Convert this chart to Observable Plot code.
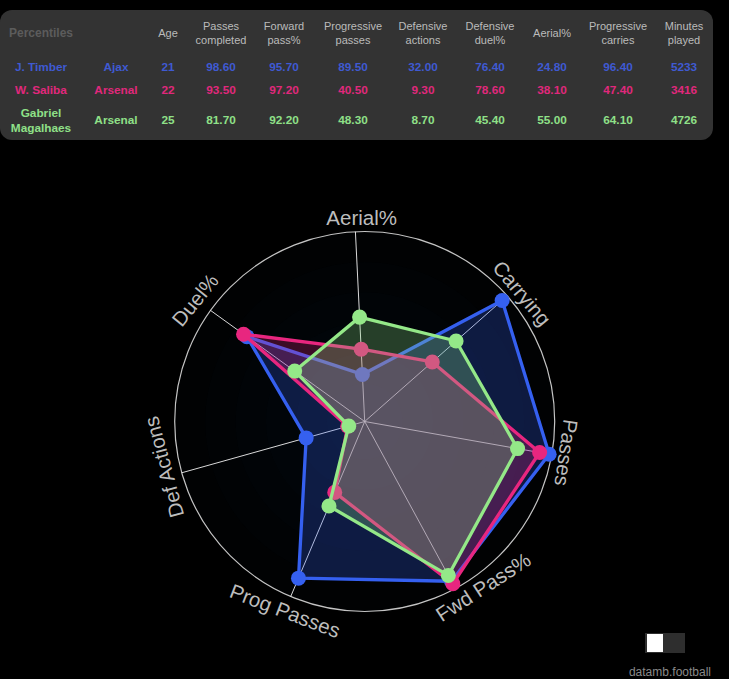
<!DOCTYPE html>
<html>
<head>
<meta charset="utf-8">
<script src="https://cdn.jsdelivr.net/npm/d3@7"></script>
<script src="https://cdn.jsdelivr.net/npm/@observablehq/plot@0.6"></script>
<style>
  html,body{margin:0;padding:0;background:#000;width:729px;height:679px;overflow:hidden;font-family:"Liberation Sans",Arial,sans-serif;}
  #panel{position:absolute;left:0;top:10px;width:713px;height:130px;background:#333;border-radius:12px;}
  table{border-collapse:collapse;table-layout:fixed;width:708px;position:absolute;left:0;top:0;}
  td,th{padding:0;text-align:center;font-size:11px;line-height:14px;}
  th{font-weight:normal;color:#bbb;}
  th.pct{font-weight:bold;color:#5c5c5c;font-size:12px;}
  td{font-weight:bold;font-size:11.8px;line-height:15px;}
  tr.h{height:45px}
  tr.r1{height:24px}
  tr.r2{height:22px}
  tr.r3{height:39px}
  #chart{position:absolute;left:0;top:150px;}
  #toggle{position:absolute;left:645px;top:633px;width:40px;height:20px;background:#2e2e2e;}
  #toggle i{position:absolute;left:2px;top:1px;width:16px;height:18px;background:#fff;display:block;}
  #credit{position:absolute;right:18px;top:665px;font-size:12px;color:#8a8a8a;line-height:14px;}
</style>
</head>
<body>
<div id="panel"></div>
<div id="chart"></div>
<div id="toggle"><i></i></div>
<div id="credit">datamb.football</div>
<script>
const players = ["J. Timber", "W. Saliba", "Gabriel Magalhaes"];
const teams = ["Ajax", "Arsenal", "Arsenal"];
const ages = [21, 22, 25];
const minutes = [5233, 3416, 4726];
const columns = ["Passes<br>completed", "Forward<br>pass%", "Progressive<br>passes", "Defensive<br>actions", "Defensive<br>duel%", "Aerial%", "Progressive<br>carries"];
const passes = [98.6, 93.5, 81.7];
const forward = [95.7, 97.2, 92.2];
const progPasses = [89.5, 40.5, 48.3];
const defActions = [32.0, 9.3, 8.7];
const defDuel = [76.4, 78.6, 45.4];
const aerial = [24.8, 38.1, 55.0];
const carries = [96.4, 47.4, 64.1];
const axisNames = ["Aerial%", "Carrying", "Passes", "Fwd Pass%", "Prog Passes", "Def Actions", "Duel%"];
const axisValues = [aerial, carries, passes, forward, progPasses, defActions, defDuel];
const tableValues = [passes, forward, progPasses, defActions, defDuel, aerial, carries];
const colors = ["#3560f0", "#e8267f", "#94e888"];
const tableColors = ["#3f5ad2", "#e0287c", "#8fe088"];
const levels = [100, 84, 68, 52, 36, 20];

// table
const widths = [82, 68, 36, 70, 56, 82, 58, 76, 48, 84, 48];
let html = "<table><colgroup>" + widths.map(w => `<col style="width:${w}px">`).join("") + "</colgroup>";
html += `<tr class="h"><th class="pct">Percentiles</th><th></th><th>Age</th>` +
  columns.map(c => `<th>${c}</th>`).join("") + `<th>Minutes<br>played</th></tr>`;
players.forEach((p, i) => {
  html += `<tr class="r${i + 1}" style="color:${tableColors[i]}"><td>${p.replace("Gabriel Magalhaes", "Gabriel<br>Magalhaes")}</td><td>${teams[i]}</td><td>${ages[i]}</td>` +
    tableValues.map(v => `<td>${v[i].toFixed(2)}</td>`).join("") + `<td>${minutes[i]}</td></tr>`;
});
html += "</table>";
document.getElementById("panel").innerHTML = html;

// polar helpers: value 0-100 along an axis, bearing in degrees clockwise from up
const startBearing = -2.8;
const bearing = i => startBearing + i * 360 / 7;
const px = (r, b) => r * Math.sin(b * Math.PI / 180);
const py = (r, b) => r * Math.cos(b * Math.PI / 180);

const series = players.map((p, s) => axisNames.map((a, i) => ({
  player: p, axis: a, x: px(axisValues[i][s], bearing(i)), y: py(axisValues[i][s], bearing(i))
})));
const spokes = axisNames.map((a, i) => ({x2: px(100, bearing(i)), y2: py(100, bearing(i))}));

const labelRadius = [107, 106.5, 107, 107.5, 108.5, 108, 109.4];
const labelBearing = [-0.85, 50.8, 98.8, 144.4, 202.8, 257.2, 305.6];
const labelRotate = [0, 50, 98, -33, 21, -105, -51];
const labels = axisNames.map((a, i) => ({
  name: a, x: px(labelRadius[i], labelBearing[i]), y: py(labelRadius[i], labelBearing[i]), rotate: labelRotate[i]
}));

const unit = 1.9;
const plot = Plot.plot({
  width: 729, height: 529, margin: 0,
  style: {background: "transparent"},
  x: {domain: [-364.2 / unit, 364.8 / unit], range: [0, 729], axis: null},
  y: {domain: [-258 / unit, 271 / unit], range: [529, 0], axis: null},
  r: {type: "linear", domain: [0, 100], range: [0, 100 * unit]},
  marks: [
    Plot.dot(levels, {x: () => 0, y: () => 0, r: d => d, fill: "#1f6f8f", fillOpacity: 0.02, stroke: "none"}),
    Plot.dot([100], {x: () => 0, y: () => 0, r: d => d, fill: "none", stroke: "#c4c4c4", strokeWidth: 1.2}),
    Plot.link(spokes, {x1: () => 0, y1: () => 0, x2: "x2", y2: "y2", stroke: "#fff", strokeWidth: 1, strokeOpacity: 0.85}),
    ...series.flatMap((data, s) => [
      Plot.line(data, {x: "x", y: "y", curve: "linear-closed", fill: colors[s], fillOpacity: 0.26, stroke: colors[s], strokeWidth: 3.3, strokeLinejoin: "round"}),
      Plot.dot(data, {x: "x", y: "y", r: () => 3.95, fill: colors[s], stroke: "none"})
    ]),
    Plot.text(labels, {x: "x", y: "y", text: "name", rotate: "rotate", fontSize: 20.5, fill: "#bdbdbd", fontFamily: "Liberation Sans, Arial, sans-serif", textAnchor: "middle", lineAnchor: "middle"})
  ]
});
document.getElementById("chart").appendChild(plot);
</script>
</body>
</html>
